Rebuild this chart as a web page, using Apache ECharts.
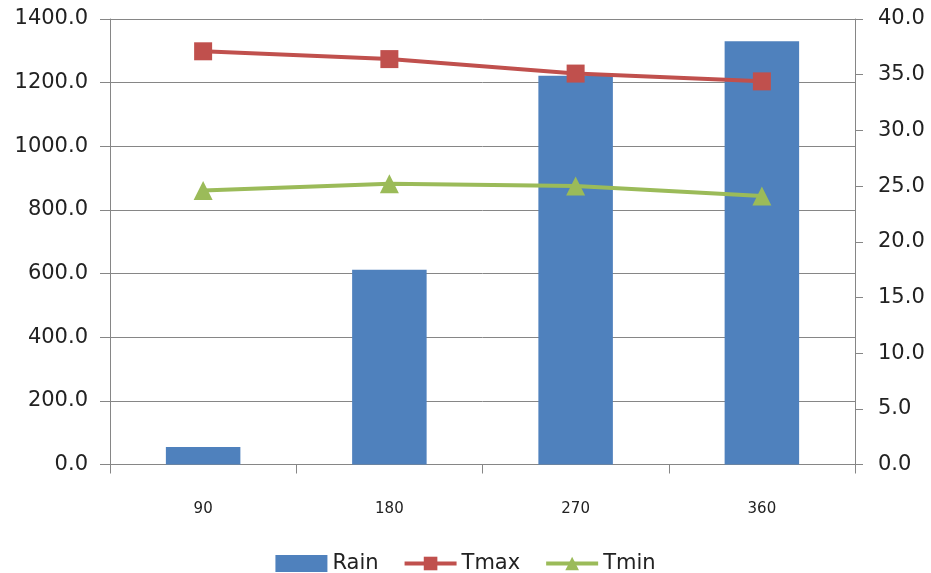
<!DOCTYPE html>
<html>
<head>
<meta charset="utf-8">
<script src="https://cdn.jsdelivr.net/npm/echarts@6/dist/echarts.min.js"></script>
<style>html,body{margin:0;padding:0;background:#fff;}#c{width:931px;height:573px;}</style>
</head>
<body>
<div id="c"></div>
<script>
const categories = ['90', '180', '270', '360'];
const rain = [55, 612, 1222, 1330];
const tmax = [37.1, 36.4, 35.1, 34.4];
const tmin = [24.6, 25.2, 25.0, 24.1];

const font = 'DejaVu Sans';
const chart = echarts.init(document.getElementById('c'));
chart.setOption({
  animation: false,
  backgroundColor: '#fff',
  grid: { left: 110, right: 76, top: 19, bottom: 108.5 },
  legend: {
    top: 548, left: 'center',
    itemWidth: 52, itemHeight: 17, itemGap: 24,
    textStyle: { fontFamily: font, fontSize: 21, color: '#222' },
    data: [
      { name: 'Rain', icon: 'rect' },
      { name: 'Tmax', lineStyle: { width: 4 } },
      { name: 'Tmin', lineStyle: { width: 4 } }
    ]
  },
  xAxis: {
    type: 'category', data: categories, boundaryGap: true,
    axisLine: { lineStyle: { color: '#868686', width: 1 } },
    axisTick: { show: true, length: 9, lineStyle: { color: '#868686' } },
    axisLabel: { margin: 37, fontFamily: font, fontSize: 15, color: '#222' },
    splitLine: { show: false }
  },
  yAxis: [
    {
      type: 'value', min: 0, max: 1400, interval: 200,
      axisLine: { show: true, lineStyle: { color: '#868686' } },
      axisTick: { show: true, length: 10, lineStyle: { color: '#868686' } },
      axisLabel: { margin: 22, fontFamily: font, fontSize: 21, color: '#222',
        formatter: v => v.toFixed(1) },
      splitLine: { show: true, lineStyle: { color: '#868686', width: 1 } }
    },
    {
      type: 'value', min: 0, max: 40, interval: 5,
      axisLine: { show: true, lineStyle: { color: '#868686' } },
      axisTick: { show: true, length: 8, lineStyle: { color: '#868686' } },
      axisLabel: { margin: 23, fontFamily: font, fontSize: 21, color: '#222',
        formatter: v => v.toFixed(1) },
      splitLine: { show: false }
    }
  ],
  series: [
    { name: 'Rain', type: 'bar', data: rain, barWidth: '40%',
      itemStyle: { color: '#4F81BD' } },
    { name: 'Tmax', type: 'line', yAxisIndex: 1, data: tmax,
      symbol: 'rect', symbolSize: 18,
      lineStyle: { color: '#C0504D', width: 4 },
      itemStyle: { color: '#C0504D' } },
    { name: 'Tmin', type: 'line', yAxisIndex: 1, data: tmin,
      symbol: 'triangle', symbolSize: 19,
      lineStyle: { color: '#9BBB59', width: 4 },
      itemStyle: { color: '#9BBB59' } }
  ]
});
</script>
</body>
</html>
